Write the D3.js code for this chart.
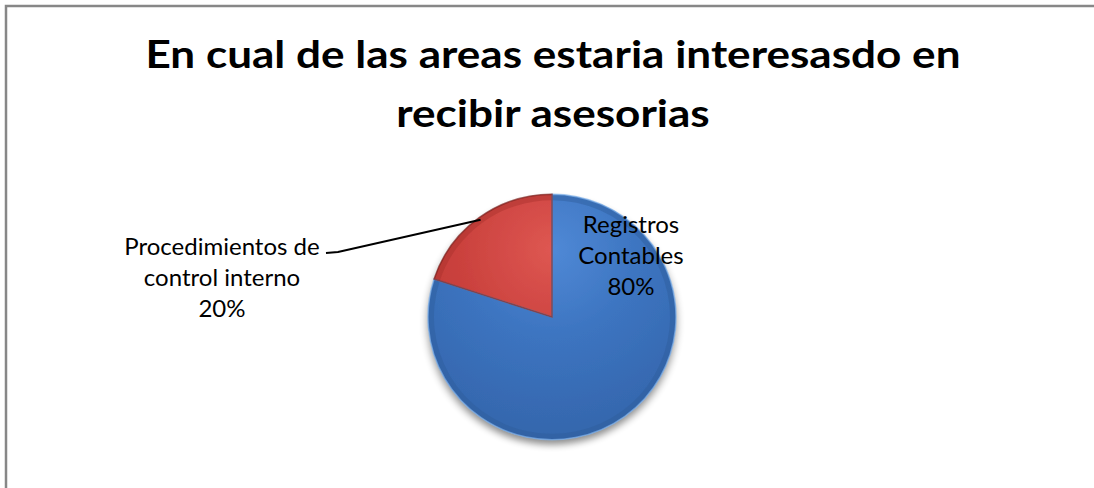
<!DOCTYPE html>
<html>
<head>
<meta charset="utf-8">
<script src="https://cdn.jsdelivr.net/npm/d3@7"></script>
<style>
  html, body { margin: 0; padding: 0; background: #fff; }
  svg { display: block; }
</style>
</head>
<body>
<div id="chart"></div>
<script>
const categories = ["Registros Contables", "Procedimientos de control interno"];
const values = [80, 20];
const labelLines = [["Registros", "Contables", "80%"], ["Procedimientos de", "control interno", "20%"]];
const titleLines = ["En cual de las areas estaria interesasdo en", "recibir asesorias"];

function drawChart () {
    const width = 1094;
    const height = 488;
    const cx = 552, cy = 317;
    const r = 124;
    const sy = 0.99;

    const svg = d3.select("#chart").append("svg")
        .attr("width", width)
        .attr("height", height);

    const defs = svg.append("defs");

    // soft shadow under the pie
    const f = defs.append("filter").attr("id", "shadow")
        .attr("x", "-20%").attr("y", "-20%").attr("width", "140%").attr("height", "150%");
    f.append("feGaussianBlur").attr("in", "SourceAlpha").attr("stdDeviation", 4);
    f.append("feOffset").attr("dx", 0).attr("dy", 5).attr("result", "b");
    f.append("feComponentTransfer").append("feFuncA").attr("type", "linear").attr("slope", 0.45);
    const m = f.append("feMerge");
    m.append("feMergeNode");
    m.append("feMergeNode").attr("in", "SourceGraphic");

    const fills = [
        ["#5089d6", "#3c74c0", "#3465ab"],
        ["#de5752", "#cb423e", "#b7332f"]
    ];
    fills.forEach((c, i) => {
        const g = defs.append("radialGradient").attr("id", "g" + i)
            .attr("gradientUnits", "userSpaceOnUse")
            .attr("cx", 0).attr("cy", -r * 0.55).attr("r", r * 1.6);
        g.append("stop").attr("offset", "0%").attr("stop-color", c[0]);
        g.append("stop").attr("offset", "45%").attr("stop-color", c[1]);
        g.append("stop").attr("offset", "100%").attr("stop-color", c[2]);
    });

    // chart border (top and left only visible)
    svg.append("path")
        .attr("d", `M6,${height} L6,6 L${width},6`)
        .attr("fill", "none")
        .attr("stroke", "#878787")
        .attr("stroke-width", 2.5);

    // title (stretched a little to match the original's width)
    svg.append("g")
        .attr("transform", "translate(553,0) scale(1.16,1)")
        .append("text")
        .attr("text-anchor", "middle")
        .attr("font-family", "Lato, 'Open Sans', sans-serif")
        .attr("font-weight", "bold")
        .attr("font-size", 38)
        .attr("fill", "#000")
        .selectAll("tspan")
        .data(titleLines)
        .join("tspan")
            .attr("x", 0)
            .attr("y", (d, i) => 68 + i * 59)
            .text(d => d);

    const pie = d3.pie().sort(null).startAngle(0).endAngle(2 * Math.PI);
    const arcs = pie(values);
    const arc = d3.arc().innerRadius(0).outerRadius(r);
    const rimArc = d3.arc().innerRadius(r - 6).outerRadius(r);

    const g = svg.append("g")
        .attr("transform", `translate(${cx},${cy}) scale(1,${sy})`);

    const body = g.append("g").attr("filter", "url(#shadow)");
    body.selectAll("path.slice")
        .data(arcs)
        .join("path")
        .attr("class", "slice")
        .attr("d", arc)
        .attr("fill", (d, i) => `url(#g${i})`);

    // bevel rim: darker outer edge
    g.selectAll("path.rim")
        .data(arcs)
        .join("path")
        .attr("class", "rim")
        .attr("d", rimArc)
        .attr("fill", (d, i) => i === 0 ? "#2f5d9c" : "#a8302c")
        .attr("opacity", 0.45);

    // highlight along slice edges
    g.selectAll("path.edge")
        .data(arcs)
        .join("path")
        .attr("class", "edge")
        .attr("d", arc)
        .attr("fill", "none")
        .attr("stroke", (d, i) => i === 0 ? "#7fb0ea" : "#7a1f1c")
        .attr("stroke-width", 1.5)
        .attr("stroke-opacity", 0.7);

    const font = "Lato, 'Open Sans', sans-serif";

    // inside label for the big slice
    svg.append("text")
        .attr("text-anchor", "middle")
        .attr("font-family", font)
        .attr("font-size", 24)
        .attr("fill", "#000")
        .selectAll("tspan")
        .data(labelLines[0])
        .join("tspan")
            .attr("x", 631)
            .attr("y", (d, i) => 233 + i * 31)
            .text(d => d);

    // outside label for the small slice
    svg.append("text")
        .attr("text-anchor", "middle")
        .attr("font-family", font)
        .attr("font-size", 24)
        .attr("fill", "#000")
        .selectAll("tspan")
        .data(labelLines[1])
        .join("tspan")
            .attr("x", 222)
            .attr("y", (d, i) => 255 + i * 31)
            .text(d => d);

    // leader line from the small slice to its label
    const mid = (arcs[1].startAngle + arcs[1].endAngle) / 2;
    const px = cx + Math.sin(mid) * r * 0.98;
    const py = cy - Math.cos(mid) * r * 0.98 * sy;
    svg.append("polyline")
        .attr("points", `326,253 338,252 ${px},${py}`)
        .attr("fill", "none")
        .attr("stroke", "#000")
        .attr("stroke-width", 2);
}
drawChart();
</script>
</body>
</html>
